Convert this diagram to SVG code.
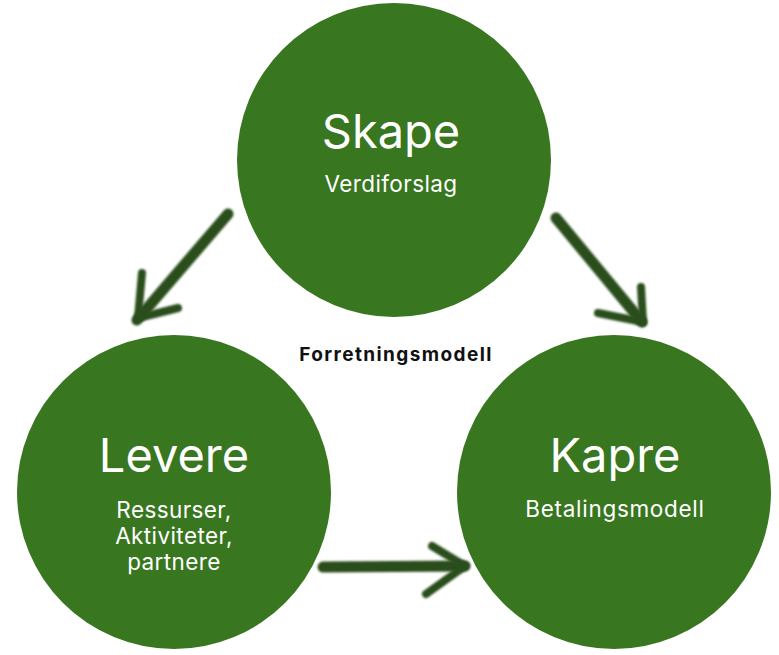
<svg xmlns="http://www.w3.org/2000/svg" width="779" height="655" viewBox="0 0 779 655">
<style>
.node{fill:#38761f}
.t{font-family:Inter,"DejaVu Sans",sans-serif;fill:#ffffff;text-anchor:middle}
.big{font-size:47px;font-weight:400}
.sub{font-size:22.5px;font-weight:400;letter-spacing:0.4px}
.lbl{font-family:Inter,"DejaVu Sans",sans-serif;font-size:19px;font-weight:700;fill:#111111;text-anchor:middle;letter-spacing:1.4px}
.arr{fill:none;stroke:#2c4d1e;stroke-linecap:round;stroke-linejoin:round;filter:url(#soft)}
</style>
<defs>
<filter id="soft" filterUnits="userSpaceOnUse" x="0" y="0" width="779" height="655"><feGaussianBlur stdDeviation="0.8"/></filter>
</defs>
<rect width="779" height="655" fill="#ffffff"/>
<g id="connectors">
<path class="arr" stroke-width="11" d="M228,214 L137,320"/>
<path class="arr" stroke-width="8" d="M142,273 L138,318 L178,308"/>
<path class="arr" stroke-width="11" d="M556,218 L642,322"/>
<path class="arr" stroke-width="8" d="M641,287 L643,322 L598,313"/>
<path class="arr" stroke-width="11" d="M323,567 L465,566"/>
<path class="arr" stroke-width="8" d="M432,546 L465,566 L426,594"/>
</g>
<g id="skape">
<circle class="node" cx="394" cy="160" r="157"/>
<text class="t big" x="391" y="148">Skape</text>
<text class="t sub" x="391" y="192">Verdiforslag</text>
</g>
<g id="levere">
<circle class="node" cx="174" cy="492" r="157"/>
<text class="t big" x="174" y="472">Levere</text>
<text class="t sub" x="174" y="518">Ressurser,</text>
<text class="t sub" x="174" y="544">Aktiviteter,</text>
<text class="t sub" x="174" y="570">partnere</text>
</g>
<g id="kapre">
<circle class="node" cx="614" cy="492" r="157"/>
<text class="t big" x="615" y="472">Kapre</text>
<text class="t sub" x="615" y="517" style="letter-spacing:0.7px">Betalingsmodell</text>
</g>
<g id="label">
<text class="lbl" x="396" y="361">Forretningsmodell</text>
</g>
</svg>
